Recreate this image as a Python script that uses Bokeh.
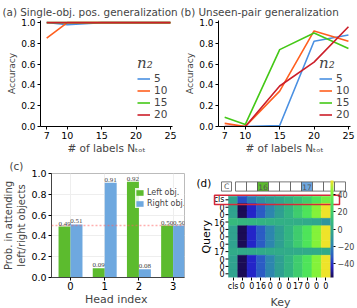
import numpy as np
from bokeh.plotting import figure
from bokeh.layouts import row, column
from bokeh.models import (ColumnDataSource, FixedTicker, Legend, LegendItem, Span,
                          LabelSet, ColorBar, LinearColorMapper, Title, PrintfTickFormatter)
from bokeh.core.properties import value
from bokeh.transform import dodge
from bokeh.embed import file_html
from bokeh.resources import INLINE

FONT = "DejaVu Sans"

# ---------------- data ----------------
n_labels = [7, 10, 15, 20, 25]
n2_names = ["5", "10", "15", "20"]

acc_single_n5 = [1.00, 0.98, 1.00, 1.00, 1.00]
acc_single_n10 = [0.85, 1.00, 1.00, 1.00, 1.00]
acc_single_n15 = [1.00, 1.00, 1.00, 1.00, 1.00]
acc_single_n20 = [1.00, 1.00, 1.00, 1.00, 1.00]

acc_pair_n5 = [0.00, 0.00, 0.01, 0.82, 0.88]
acc_pair_n10 = [0.03, 0.00, 0.34, 0.92, 0.82]
acc_pair_n15 = [0.09, 0.02, 0.74, 0.90, 0.75]
acc_pair_n20 = [0.00, 0.00, 0.39, 0.62, 0.96]

heads = [0, 1, 2, 3]
left_obj = [0.49, 0.09, 0.92, 0.50]
right_obj = [0.51, 0.91, 0.08, 0.50]

token_labels = ["cls", "0", "0", "16", "0", "0", "0", "17", "0", "0", "0"]
strip_labels = ["C", "", "", "16", "", "", "", "17", "", "", ""]
attn_cls = [-3, -35, -22, -13, -7, -2, 5, 12, 20, 32, 40]
attn_zero = [-4, -57, -44, -32, -19, -6, 6, 19, 32, 44, 57]
attn_16 = [9, 8, 7, 6, 5, 4, 3, 2, 0, -2, -11]
attn_17 = [1, 1, 1, 1, 1, 1, 1, 1, 1, 1, 0]
attn_rows = [attn_cls, attn_zero, attn_zero, attn_16, attn_zero, attn_zero,
             attn_zero, attn_17, attn_zero, attn_zero, attn_zero]
cbar_ticks = [-40, -20, 0, 20, 40]
acc_ticks = [0, 0.2, 0.4, 0.6, 0.8, 1.0]

# ---------------- styles ----------------
line_colors = ["#4a90e2", "#ff5f1f", "#44c817", "#cc1f2a"]
GREEN = "#5cbb2e"
BLUE = "#6ea8df"

anchor_vals = [-57, -44, -32, -19, -6, 6, 19, 32, 44, 57]
anchor_cols = ["#1b0c55", "#2424c8", "#2b5cc4", "#2d86ae", "#2f9f92",
               "#33b482", "#3fcc6e", "#4ee45a", "#84f23a", "#eee32a"]


def hex2rgb(h):
    return [int(h[i:i + 2], 16) for i in (1, 3, 5)]


grid = np.linspace(anchor_vals[0], anchor_vals[-1], 256)
rgb = np.array([hex2rgb(c) for c in anchor_cols], dtype=float)
palette = []
for g in grid:
    cc = [np.interp(g, anchor_vals, rgb[:, k]) for k in range(3)]
    palette.append("#%02x%02x%02x" % tuple(int(round(v)) for v in cc))


def style_axes(p, tick_size="9px"):
    for ax in (p.xaxis, p.yaxis):
        ax.major_label_text_font = FONT
        ax.axis_label_text_font = FONT
        ax.axis_label_text_font_style = "normal"
        ax.major_label_text_font_size = tick_size
        ax.major_label_text_color = "black"
        ax.minor_tick_line_color = None
        ax.major_tick_in = 0
        ax.major_tick_out = 3
        ax.major_label_standoff = 2
        ax.axis_label_standoff = 1
        ax.axis_line_color = "black"
        ax.major_tick_line_color = "black"


ROW1_H = 156


def acc_panel(title, series, width, b_right, leg_x):
    p = figure(width=width, height=ROW1_H, x_range=(6.1, 25.3), y_range=(0, 1.02),
               output_backend="svg", toolbar_location=None,
               min_border_left=40, min_border_right=b_right,
               min_border_top=20, min_border_bottom=ROW1_H - 127)
    p.title.text = title
    p.title.text_font = FONT
    p.title.text_font_size = "10.4px"
    p.title.text_font_style = "normal"
    p.title.offset = -38
    p.title.standoff = 5
    p.outline_line_color = None
    p.grid.visible = False
    items = []
    for name, vals, col in zip(n2_names, series, line_colors):
        r = p.line(n_labels, vals, line_color=col, line_width=1.6)
        items.append(LegendItem(label=name, renderers=[r]))
    leg = Legend(items=items, location=(leg_x, 6), title="n₂",
                 title_text_font="DejaVu Serif", title_text_font_style="italic",
                 title_text_font_size="15px", title_standoff=0,
                 label_text_font=FONT, label_text_font_size="10.5px",
                 glyph_width=13, glyph_height=9, label_height=9, label_standoff=4,
                 spacing=0, padding=0, margin=0,
                 border_line_color=None, background_fill_alpha=0)
    p.add_layout(leg)
    style_axes(p)
    p.xaxis.major_label_text_font_size = "9.5px"
    p.xaxis.major_label_standoff = 2
    p.xaxis.ticker = FixedTicker(ticks=n_labels)
    p.yaxis.ticker = FixedTicker(ticks=acc_ticks)
    p.yaxis.formatter = PrintfTickFormatter(format="%.1f")
    p.xaxis.axis_label = "# of labels Nₜₒₜ"
    p.xaxis.axis_label_text_font_size = "10.5px"
    p.xaxis.axis_label_standoff = 0
    p.yaxis.axis_label = "Accuracy"
    p.yaxis.axis_label_text_font_size = "9px"
    return p


pa = acc_panel("(a) Single-obj. pos. generalization",
               [acc_single_n5, acc_single_n10, acc_single_n15, acc_single_n20],
               178, 6, 97)
pb = acc_panel("(b) Unseen-pair generalization",
               [acc_pair_n5, acc_pair_n10, acc_pair_n15, acc_pair_n20],
               179, 7, 101)

# ---------------- panel (c) ----------------
ROW2_H = 308 - ROW1_H
pc = figure(width=192, height=ROW2_H, x_range=(-0.556, 3.333), y_range=(0, 1.0),
            output_backend="svg", toolbar_location=None,
            min_border_left=45, min_border_right=8, min_border_top=17,
            min_border_bottom=ROW2_H - 124)
pc.title.text = "(c)"
pc.title.text_font = FONT
pc.title.text_font_size = "10.4px"
pc.title.text_font_style = "normal"
pc.title.offset = -42
pc.title.standoff = 3
pc.outline_line_color = "#bbbbbb"
pc.xgrid.grid_line_color = "#eeeeee"
pc.ygrid.grid_line_color = "#eeeeee"
src = ColumnDataSource(dict(head=heads, left=left_obj, right=right_obj,
                            left_txt=["%.2f" % v for v in left_obj],
                            right_txt=["%.2f" % v for v in right_obj]))
rl = pc.vbar(x=dodge("head", -0.175, range=pc.x_range), top="left", width=0.35,
             source=src, fill_color=GREEN, line_color=None)
rr = pc.vbar(x=dodge("head", 0.175, range=pc.x_range), top="right", width=0.35,
             source=src, fill_color=BLUE, line_color=None)
pc.add_layout(Span(location=0.5, dimension="width", line_color="#ff6060",
                   line_dash="2 2", line_width=1.5, line_alpha=0.5))
for xo, col in ((-0.175, "left"), (0.175, "right")):
    pc.add_layout(LabelSet(x=dodge("head", xo, range=pc.x_range), y=col, text=col + "_txt",
                           source=src, text_align="center", text_baseline="bottom",
                           y_offset=1, text_font=FONT, text_font_size="7px"))
legc = Legend(items=[LegendItem(label="Left obj.", renderers=[rl]),
                     LegendItem(label="Right obj.", renderers=[rr])],
              location=(84, 69), label_text_font=FONT, label_text_font_size="8px",
              glyph_width=9, glyph_height=7, label_height=9, label_standoff=3,
              spacing=2, padding=2, margin=0, border_line_color=None,
              background_fill_color="white", background_fill_alpha=0.85)
pc.add_layout(legc)
style_axes(pc, tick_size="9.5px")
pc.xaxis.ticker = FixedTicker(ticks=heads)
pc.yaxis.ticker = FixedTicker(ticks=acc_ticks)
pc.yaxis.formatter = PrintfTickFormatter(format="%.1f")
pc.xaxis.major_label_text_font_size = "10px"
pc.xaxis.major_label_standoff = 1
pc.xaxis.axis_label = "Head  index"
pc.xaxis.axis_label_text_font_size = "11px"
pc.xaxis.axis_label_standoff = 0
pc.yaxis.axis_label = "Prob. in attending\nleft/right objects"
pc.yaxis.axis_label_text_font_size = "10px"
pc.xaxis.axis_line_color = "#444444"
pc.yaxis.axis_line_color = "#444444"

# ---------------- panel (d) ----------------
D_W, D_H = 357 - 192, ROW2_H
HX0, HW = 36, 102 / 11     # heatmap left edge (px) and column width (px)
HBOT, HH = 124, 97 / 11    # heatmap bottom (px from top) and row height (px)


def dx(px):  # local pixel x -> data x
    return -0.5 + (px - HX0) / HW


def dy(py):  # local pixel y (from top) -> data y
    return -0.5 + (HBOT - py) / HH


pd_ = figure(width=D_W, height=D_H, x_range=(dx(0), dx(D_W)), y_range=(dy(HBOT), dy(0)),
             output_backend="svg", toolbar_location=None,
             min_border_left=0, min_border_right=0, min_border_top=0,
             min_border_bottom=D_H - HBOT)
pd_.outline_line_color = None
pd_.grid.visible = False
xs, ys, vs = [], [], []
for r, rowvals in enumerate(attn_rows):
    for c, v in enumerate(rowvals):
        xs.append(c)
        ys.append(len(attn_rows) - 1 - r)
        vs.append(v)
mapper = LinearColorMapper(palette=palette, low=-57, high=57)
hsrc = ColumnDataSource(dict(x=xs, y=ys, v=vs))
pd_.rect(x="x", y="y", width=1, height=1, source=hsrc,
         fill_color={"field": "v", "transform": mapper},
         line_color={"field": "v", "transform": mapper}, line_width=0.5)

# query labels (rows), drawn next to the map
row_y = [len(token_labels) - 1 - i for i in range(len(token_labels))]
qsrc = ColumnDataSource(dict(y=row_y, txt=token_labels))
pd_.text(x=dx(32), y="y", text="txt", source=qsrc, text_align="right",
         text_baseline="middle", text_font=value(FONT), text_font_size="8px")
pd_.segment(x0=dx(33), y0="y", x1=dx(36), y1="y", source=qsrc,
            line_color="black", line_width=1)
pd_.text(x=[dx(13.5)], y=[5], text=["Query"], angle=np.pi / 2, text_align="center",
         text_baseline="middle", text_font=value(FONT), text_font_size="11px")

# token strip above the map
sb_top, sb_bot = dy(10), dy(21)
strip_x0, strip_w = dx(43), (dx(153) - dx(43)) / 10
sx, sw, sfill = [(dx(29) + dx(39)) / 2], [dx(39) - dx(29)], ["white"]
for i, tok in enumerate(token_labels[1:]):
    sx.append(strip_x0 + (i + 0.5) * strip_w)
    sw.append(strip_w)
    sfill.append(GREEN if tok == "16" else (BLUE if tok == "17" else "white"))
ssrc = ColumnDataSource(dict(x=sx, w=sw, fill=sfill, txt=strip_labels))
pd_.rect(x="x", y=(sb_top + sb_bot) / 2, width="w", height=sb_top - sb_bot, source=ssrc,
         fill_color="fill", line_color="#555555", line_width=0.8)
pd_.text(x="x", y=(sb_top + sb_bot) / 2, text="txt", source=ssrc, text_align="center",
         text_baseline="middle", text_font=value(FONT), text_font_size="7.5px",
         text_color="#555555")
pd_.text(x=[dx(4)], y=[dy(11)], text=["(d)"], text_font=value(FONT), text_font_size="10.4px",
         text_baseline="alphabetic")
# highlight of the cls query row
pd_.rect(x=[(dx(22) + dx(147)) / 2], y=[(dy(26) + dy(37)) / 2],
         width=dx(147) - dx(22), height=dy(26) - dy(37),
         fill_color=None, line_color="#d62839", line_width=1.5)

cb = ColorBar(color_mapper=mapper, width=3, height=HBOT - 27,
              location=(138, 0),
              ticker=FixedTicker(ticks=cbar_ticks),
              major_label_overrides={-40: "−40", -20: "−20"},
              major_label_text_font=FONT, major_label_text_font_size="8px",
              major_tick_out=2, major_tick_in=0, major_tick_line_color="black",
              label_standoff=2, padding=0, margin=0, bar_line_color=None,
              background_fill_alpha=0, border_line_color=None)
pd_.add_layout(cb)

style_axes(pd_, tick_size="8px")
pd_.yaxis.visible = False
pd_.xaxis.ticker = FixedTicker(ticks=list(range(11)))
pd_.xaxis.major_label_overrides = {i: t for i, t in enumerate(token_labels)}
pd_.xaxis.major_label_standoff = 1
pd_.xaxis.axis_line_color = None
pd_.add_layout(Title(text="Key", align="left", offset=78, standoff=0,
                     text_font=FONT, text_font_size="11px", text_font_style="normal"),
               "below")

layout = column(row(pa, pb), row(pc, pd_))
open("out.html", "w").write(file_html(layout, INLINE))
